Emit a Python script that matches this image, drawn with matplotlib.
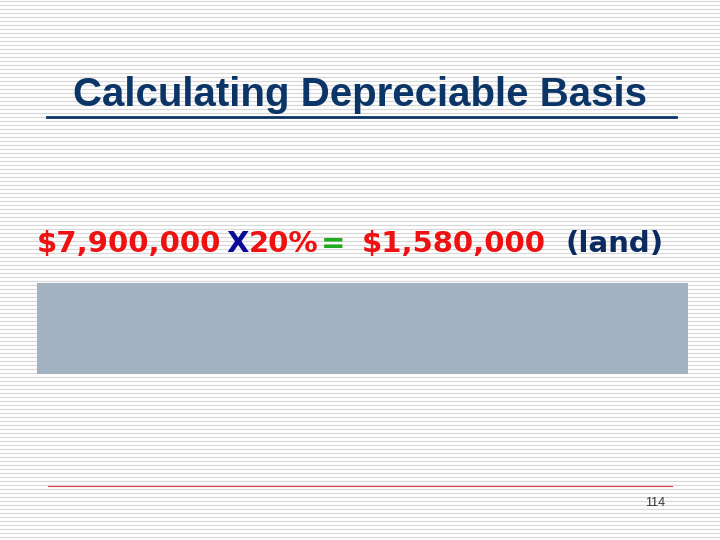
import matplotlib
matplotlib.use("Agg")
import matplotlib.pyplot as plt
from matplotlib.patches import Rectangle

title = "Calculating Depreciable Basis"
segments = ["$7,900,000", "X", "20%", "=", "$1,580,000", "(land)"]
seg_colors = ["#EE1111", "#0A0A99", "#EE1111", "#22AA22", "#EE1111", "#0A2A60"]
seg_x = [37, 226, 249, 321, 362, 566]
page = "114"

fig = plt.figure(figsize=(7.2, 5.4), dpi=100)
ax = fig.add_axes([0, 0, 1, 1])
ax.set_xlim(0, 720)
ax.set_ylim(540, 0)
ax.axis("off")
fig.patch.set_facecolor("white")

for y in range(1, 540, 4):
    ax.plot([0, 720], [y, y], color="#D8D8D8", lw=0.9, zorder=0)

ax.text(360, 95, title, ha="center", va="center", fontsize=29, fontweight="bold",
        family="Liberation Sans", color="#0B3566", zorder=3)
ax.plot([47, 676], [117, 117], color="#0B3566", lw=2, zorder=3)

for s, c, x in zip(segments, seg_colors, seg_x):
    ax.text(x, 244, s, ha="left", va="center", fontsize=21, fontweight="bold",
            family="DejaVu Sans", color=c, zorder=3)

ax.add_patch(Rectangle((37, 283), 651, 91, facecolor="#A3B2C1", edgecolor="none", zorder=2))
ax.plot([48, 672], [486, 486], color="#D94040", lw=0.8, zorder=3)
ax.text(655, 503, page, ha="center", va="center", fontsize=9,
        family="Liberation Sans", color="#333333", zorder=3)

fig.savefig("out.png", dpi=100, facecolor="white")
